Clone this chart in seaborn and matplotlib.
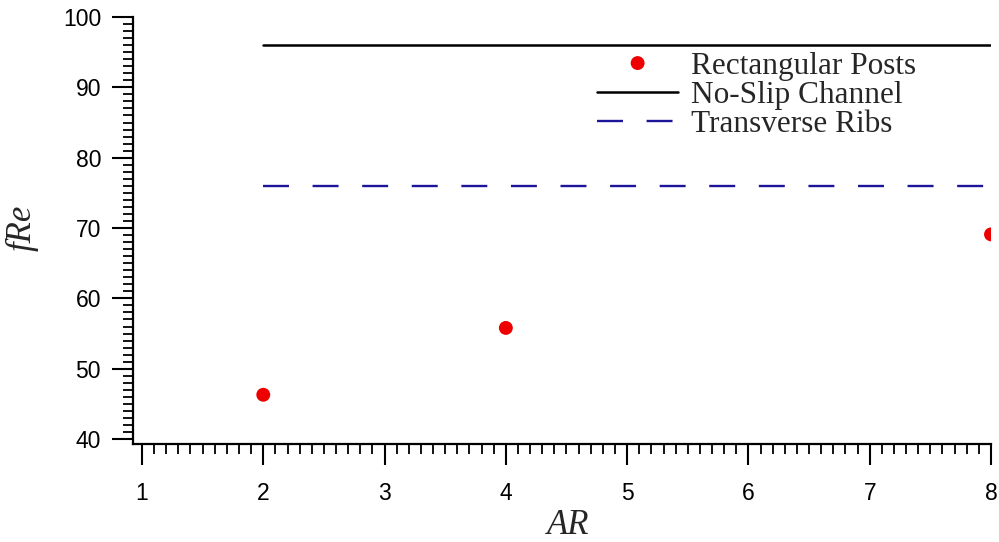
import matplotlib
matplotlib.use("Agg")
import matplotlib.pyplot as plt
from matplotlib.ticker import MultipleLocator
import seaborn as sns
import pandas as pd

# Friction factor data
aspect_ratio = [2, 4, 8]
fre_posts = [46.3, 55.8, 69.1]
line_ar = [2, 8]
fre_noslip = [96, 96]
fre_ribs = [76, 76]

x_ticks = [1, 2, 3, 4, 5, 6, 7, 8]
y_ticks = [40, 50, 60, 70, 80, 90, 100]

sns.set_theme(style="ticks")
plt.rcParams["font.family"] = ["Liberation Sans", "DejaVu Sans"]

posts = pd.DataFrame({"AR": aspect_ratio, "fRe": fre_posts})
noslip = pd.DataFrame({"AR": line_ar, "fRe": fre_noslip})
ribs = pd.DataFrame({"AR": line_ar, "fRe": fre_ribs})

fig = plt.figure(figsize=(9.99, 5.42), dpi=100)
ax = fig.add_axes([133 / 999, 1 - 444 / 542, (991 - 133) / 999, (444 - 17) / 542])

sns.scatterplot(data=posts, x="AR", y="fRe", ax=ax, color="#ee0000",
                s=100, edgecolor="none", label="Rectangular Posts", zorder=3)
sns.lineplot(data=noslip, x="AR", y="fRe", ax=ax, color="black",
             linewidth=1.8, label="No-Slip Channel")
sns.lineplot(data=ribs, x="AR", y="fRe", ax=ax, color="#1c1499",
             linewidth=1.7, label="Transverse Ribs", dashes=False)
ax.lines[-1].set_dashes((11, 10))

ax.set_xlim(0.926, 8)
ax.set_ylim(39.3, 100)
ax.set_xticks(x_ticks)
ax.set_yticks(y_ticks)
ax.xaxis.set_minor_locator(MultipleLocator(0.1))
ax.yaxis.set_minor_locator(MultipleLocator(1))

for s in ("top", "right"):
    ax.spines[s].set_visible(False)
for s in ("left", "bottom"):
    ax.spines[s].set_linewidth(1.6)
    ax.spines[s].set_color("black")
ax.spines["left"].set_bounds(39.3, 100)

ax.tick_params(which="major", direction="out", length=15, width=1.5,
               labelsize=16.5, colors="black")
ax.tick_params(which="minor", direction="out", length=7, width=1.3,
               colors="black")
ax.tick_params(axis="x", which="major", pad=12)
ax.tick_params(axis="y", which="major", pad=8)

# Italic serif axis titles, placed in axes-fraction coordinates
ax.set_xlabel("AR", fontsize=25, fontstyle="italic",
              family=["Liberation Serif", "DejaVu Serif"])
ax.set_ylabel("fRe", fontsize=25, fontstyle="italic",
              family=["Liberation Serif", "DejaVu Serif"])
ax.xaxis.label.set_verticalalignment("center")
ax.yaxis.label.set_verticalalignment("center")
ax.xaxis.set_label_coords((568 - 133) / (991 - 133), -(525 - 444) / (444 - 17))
ax.yaxis.set_label_coords(-(133 - 22) / (991 - 133), (444 - 228) / (444 - 17))

ax.legend(loc="upper left", bbox_to_anchor=(597 / 999, 1 - 52 / 542),
          bbox_transform=fig.transFigure, frameon=False, borderpad=0,
          borderaxespad=0, handlelength=2.6, handletextpad=0.42,
          labelspacing=0.0, scatteryoffsets=[0.5],
          prop={"family": ["Liberation Serif", "DejaVu Serif"], "size": 22.5})

ax.set_facecolor("white")
fig.patch.set_facecolor("white")
fig.savefig("out.png", dpi=100)
